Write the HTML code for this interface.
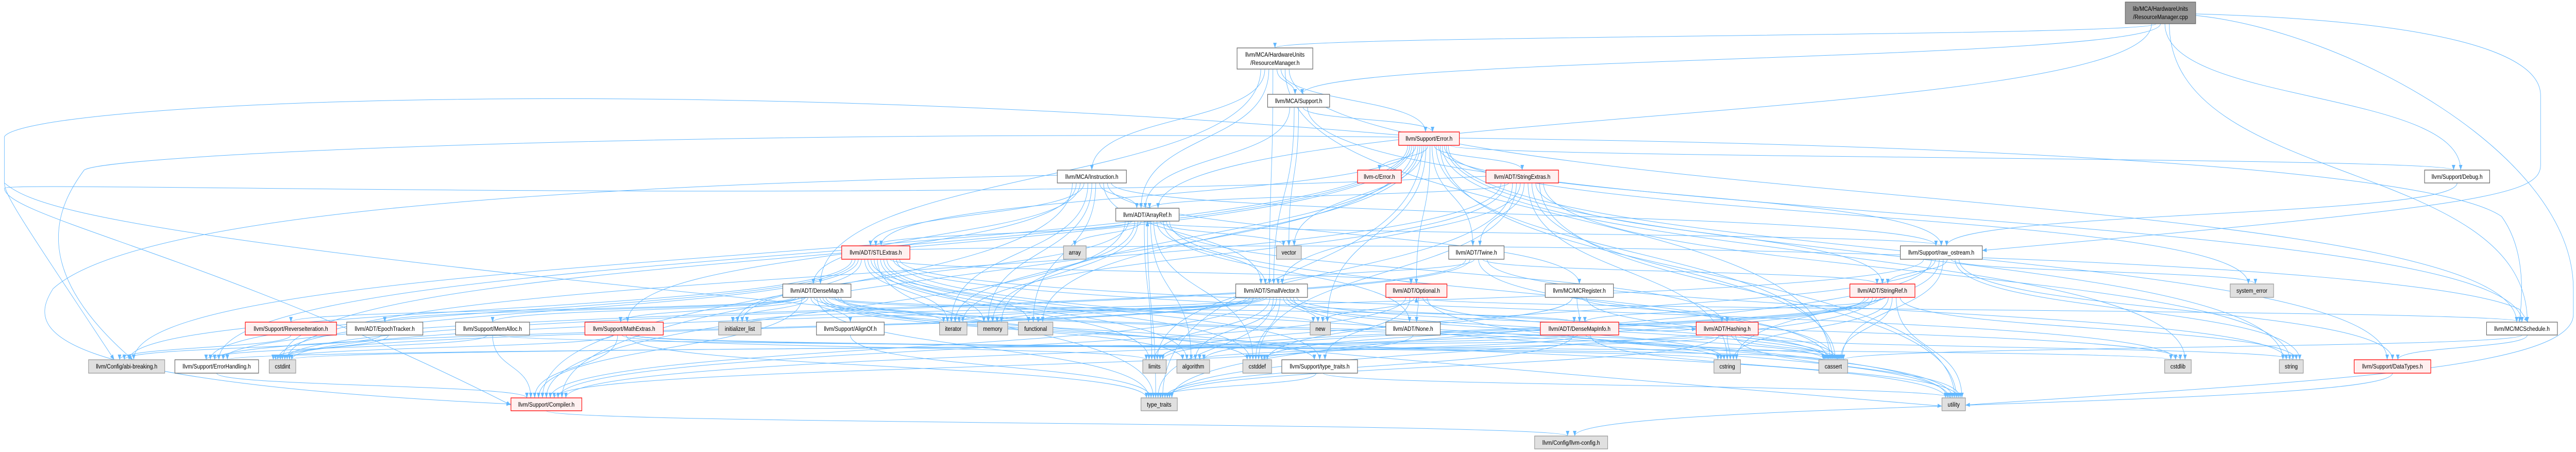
<!DOCTYPE html>
<html><head><meta charset="utf-8">
<style>
html,body{margin:0;padding:0;background:#fff;width:100%;height:100%;overflow:hidden;}
svg{display:block;position:absolute;left:0;top:0;width:100vw;height:100vh;}
text{font-family:"Liberation Sans",sans-serif;font-size:12px;fill:#000;text-anchor:middle;}
rect.w{fill:#fff;stroke:#666;stroke-width:1.3;}
rect.g{fill:#e0e0e0;stroke:#999;stroke-width:1.3;}
rect.r{fill:#fff0f0;stroke:#f00;stroke-width:1.3;}
rect.root{fill:#999;stroke:#666;stroke-width:1.3;}
path.e{fill:none;stroke:#63b8ff;stroke-width:1;}
</style></head>
<body>
<svg id="s" viewBox="0 0 5818 877" preserveAspectRatio="none" xmlns="http://www.w3.org/2000/svg">
<defs><marker id="ah" markerUnits="userSpaceOnUse" markerWidth="11" markerHeight="8" refX="10" refY="4" orient="auto"><path d="M0,0 L10,4 L0,8 z" fill="#63b8ff"/></marker></defs>
<g id="static">
<path class="e" marker-end="url(#ah)" d="M3159,262 C1500,140 60,200 10,265 L10,355 C10,380 60,440 258,698"/>
<path class="e" marker-end="url(#ah)" d="M3159,266 C1500,250 240,300 190,330 C130,400 60,520 300,698"/>
<path class="e" marker-end="url(#ah)" d="M2388,340 C1200,360 300,420 120,560 C60,640 80,740 1154,784"/>
<path class="e" marker-end="url(#ah)" d="M3356,342 C2000,400 10,350 10,365 C10,420 500,500 1154,786"/>
<path class="e" marker-end="url(#ah)" d="M10,355 C100,420 400,500 4386,788"/>
<path class="e" marker-end="url(#ah)" d="M4959,27 C5500,40 5738,100 5738,185 L5738,320 C5738,380 5600,400 4477,486"/>
<path class="e" marker-end="url(#ah)" d="M4959,30 C5300,60 5812,300 5812,560 L5812,610 C5812,720 5200,740 4439,786"/>
<path class="e" marker-end="url(#ah)" d="M2055,484 C3500,460 5450,500 5690,600 L5710,625"/>
<path class="e" marker-end="url(#ah)" d="M3296,268 C4500,280 5500,330 5650,420 C5700,480 5700,560 5690,625"/>
</g>
<g id="edges"></g>
<g id="nodes">
<rect id="root" class="root" x="4800" y="4" width="159" height="42"/><text x="4879.5" y="21">lib/MCA/HardwareUnits</text><text x="4879.5" y="37">/ResourceManager.cpp</text>
<rect id="rmh" class="w" x="2794" y="93" width="171" height="41"/><text x="2879.5" y="110">llvm/MCA/HardwareUnits</text><text x="2879.5" y="126">/ResourceManager.h</text>
<rect id="mcasup" class="w" x="2863" y="183" width="140" height="25"/><text x="2933" y="200">llvm/MCA/Support.h</text>
<rect id="errh" class="r" x="3159" y="256" width="137" height="26"/><text x="3227.5" y="273">llvm/Support/Error.h</text>
<rect id="instr" class="w" x="2388" y="330" width="156" height="25"/><text x="2466" y="347">llvm/MCA/Instruction.h</text>
<rect id="cerr" class="r" x="3066" y="330" width="99" height="25"/><text x="3115.5" y="347">llvm-c/Error.h</text>
<rect id="strext" class="r" x="3356" y="330" width="164" height="25"/><text x="3438" y="347">llvm/ADT/StringExtras.h</text>
<rect id="debug" class="w" x="5476" y="330" width="147" height="25"/><text x="5549.5" y="347">llvm/Support/Debug.h</text>
<rect id="arrayref" class="w" x="2520" y="404" width="143" height="25"/><text x="2591.5" y="421">llvm/ADT/ArrayRef.h</text>
<rect id="stlext" class="r" x="1901" y="477" width="154" height="26"/><text x="1978" y="494">llvm/ADT/STLExtras.h</text>
<rect id="array" class="g" x="2402" y="477" width="51" height="26"/><text x="2427.5" y="494">array</text>
<rect id="vector" class="g" x="2883" y="477" width="56" height="26"/><text x="2911" y="494">vector</text>
<rect id="twine" class="w" x="3272" y="477" width="125" height="26"/><text x="3334.5" y="494">llvm/ADT/Twine.h</text>
<rect id="rawos" class="w" x="4292" y="477" width="185" height="26"/><text x="4384.5" y="494">llvm/Support/raw_ostream.h</text>
<rect id="densemap" class="w" x="1768" y="551" width="154" height="26"/><text x="1845" y="568">llvm/ADT/DenseMap.h</text>
<rect id="smallvec" class="w" x="2791" y="551" width="162" height="26"/><text x="2872" y="568">llvm/ADT/SmallVector.h</text>
<rect id="optional" class="r" x="3130" y="551" width="138" height="26"/><text x="3199" y="568">llvm/ADT/Optional.h</text>
<rect id="mcreg" class="w" x="3490" y="551" width="154" height="26"/><text x="3567" y="568">llvm/MC/MCRegister.h</text>
<rect id="strref" class="r" x="4178" y="551" width="147" height="26"/><text x="4251.5" y="568">llvm/ADT/StringRef.h</text>
<rect id="syserr" class="g" x="5037" y="551" width="98" height="26"/><text x="5086" y="568">system_error</text>
<rect id="reviter" class="r" x="554" y="625" width="206" height="25"/><text x="657" y="642">llvm/Support/ReverseIteration.h</text>
<rect id="epoch" class="w" x="783" y="625" width="172" height="25"/><text x="869" y="642">llvm/ADT/EpochTracker.h</text>
<rect id="memalloc" class="w" x="1029" y="625" width="167" height="25"/><text x="1112.5" y="642">llvm/Support/MemAlloc.h</text>
<rect id="mathext" class="r" x="1321" y="625" width="177" height="25"/><text x="1409.5" y="642">llvm/Support/MathExtras.h</text>
<rect id="initl" class="g" x="1623" y="625" width="96" height="25"/><text x="1671" y="642">initializer_list</text>
<rect id="alignof" class="w" x="1844" y="625" width="153" height="25"/><text x="1920.5" y="642">llvm/Support/AlignOf.h</text>
<rect id="iterator" class="g" x="2122" y="625" width="62" height="25"/><text x="2153" y="642">iterator</text>
<rect id="memory" class="g" x="2208" y="625" width="68" height="25"/><text x="2242" y="642">memory</text>
<rect id="functional" class="g" x="2300" y="625" width="78" height="25"/><text x="2339" y="642">functional</text>
<rect id="new" class="g" x="2959" y="625" width="46" height="25"/><text x="2982" y="642">new</text>
<rect id="none" class="w" x="3130" y="625" width="123" height="25"/><text x="3191.5" y="642">llvm/ADT/None.h</text>
<rect id="dmi" class="r" x="3479" y="625" width="177" height="25"/><text x="3567.5" y="642">llvm/ADT/DenseMapInfo.h</text>
<rect id="hashing" class="r" x="3831" y="625" width="140" height="25"/><text x="3901" y="642">llvm/ADT/Hashing.h</text>
<rect id="mcsched" class="w" x="5616" y="625" width="160" height="25"/><text x="5696" y="642">llvm/MC/MCSchedule.h</text>
<rect id="abi" class="g" x="200" y="698" width="172" height="26"/><text x="286" y="715">llvm/Config/abi-breaking.h</text>
<rect id="errhand" class="w" x="395" y="698" width="189" height="26"/><text x="489.5" y="715">llvm/Support/ErrorHandling.h</text>
<rect id="cstdint" class="g" x="608" y="698" width="60" height="26"/><text x="638" y="715">cstdint</text>
<rect id="limits" class="g" x="2581" y="698" width="53" height="26"/><text x="2607.5" y="715">limits</text>
<rect id="algorithm" class="g" x="2658" y="698" width="74" height="26"/><text x="2695" y="715">algorithm</text>
<rect id="cstddef" class="g" x="2807" y="698" width="65" height="26"/><text x="2839.5" y="715">cstddef</text>
<rect id="stt" class="w" x="2895" y="698" width="171" height="26"/><text x="2980.5" y="715">llvm/Support/type_traits.h</text>
<rect id="cstring" class="g" x="3871" y="698" width="60" height="26"/><text x="3901" y="715">cstring</text>
<rect id="cassert" class="g" x="4108" y="698" width="65" height="26"/><text x="4140.5" y="715">cassert</text>
<rect id="cstdlib" class="g" x="4889" y="698" width="60" height="26"/><text x="4919" y="715">cstdlib</text>
<rect id="string" class="g" x="5148" y="698" width="54" height="26"/><text x="5175" y="715">string</text>
<rect id="datatypes" class="r" x="5317" y="698" width="173" height="26"/><text x="5403.5" y="715">llvm/Support/DataTypes.h</text>
<rect id="compiler" class="r" x="1154" y="772" width="160" height="25"/><text x="1234" y="789">llvm/Support/Compiler.h</text>
<rect id="tt" class="g" x="2577" y="772" width="82" height="25"/><text x="2618" y="789">type_traits</text>
<rect id="utility" class="g" x="4386" y="772" width="53" height="25"/><text x="4412.5" y="789">utility</text>
<rect id="llvmcfg" class="g" x="3466" y="846" width="165" height="25"/><text x="3548.5" y="863">llvm/Config/llvm-config.h</text>
</g>
</svg>
<script>
(function(){
var E={
root:"rmh,mcasup,debug,mcsched,arrayref",
rmh:"instr,mcasup,arrayref,smallvec,densemap,mcsched,errh,cassert",
mcasup:"arrayref,smallvec,mcsched,errh,vector",
instr:"arrayref,smallvec,stlext,mcreg,mathext,rawos,memory,functional,iterator,compiler,densemap",
errh:"cerr,strext,twine,optional,compiler,rawos,errhand,abi,datatypes,stlext,cassert,cstdint,cstdlib,functional,memory,new,string,syserr,tt,utility,vector,debug",
strext:"twine,arrayref,strref,iterator,cstring,string,cassert,cstdint,cstddef,utility,limits,smallvec",
twine:"smallvec,strref,errhand,cassert,cstdint,string",
arrayref:"hashing,none,smallvec,stlext,compiler,algorithm,array,cassert,cstddef,initl,iterator,memory,tt,vector,limits",
stlext:"optional,abi,errhand,algorithm,cassert,cstddef,cstdint,cstdlib,functional,initl,iterator,limits,memory,tt,utility,stt",
densemap:"dmi,epoch,alignof,compiler,mathext,memalloc,reviter,stt,algorithm,cassert,cstddef,cstring,initl,iterator,new,tt,utility",
smallvec:"compiler,errhand,algorithm,cassert,cstddef,cstdint,cstdlib,cstring,functional,initl,iterator,limits,memory,new,tt,utility",
optional:"none,compiler,stt,cassert,new,utility",
mcreg:"dmi,hashing,cassert,limits",
strref:"dmi,compiler,algorithm,cassert,cstddef,cstring,limits,string,tt,utility",
rawos:"arrayref,strref,datatypes,cassert,cstddef,cstdint,cstring,string,syserr,tt",
reviter:"abi",
epoch:"abi,cstdint",
memalloc:"compiler,errhand,cstdlib",
mathext:"compiler,cassert,cstdint,cstring,limits,tt",
alignof:"tt",
none:"compiler",
dmi:"cassert,cstddef,cstdint,tt,utility,hashing",
hashing:"errhand,tt,algorithm,cassert,cstring,string,utility",
mcsched:"datatypes,cassert,optional",
stt:"tt,utility",
compiler:"llvmcfg",
errhand:"compiler",
datatypes:"llvmcfg",
debug:"rawos"
};
function box(id){var r=document.getElementById(id);var x=+r.getAttribute('x'),y=+r.getAttribute('y'),w=+r.getAttribute('width'),h=+r.getAttribute('height');return {x1:x,y1:y,x2:x+w,y2:y+h,cx:x+w/2,cy:y+h/2,w:w};}
var out={},inc={},list=[];
for(var s in E){E[s].split(',').forEach(function(t){list.push([s,t]);(out[s]=out[s]||[]).push(t);(inc[t]=inc[t]||[]).push(s);});}
var B={};function b(id){return B[id]||(B[id]=box(id));}
function spread(arr,key,self){arr=arr.slice().sort(function(a,c){return b(a).cx-b(c).cx;});var i=arr.indexOf(key),n=arr.length;var bb=b(self);var span=Math.min(bb.w*0.7,n*8);return n<2?bb.cx:bb.cx-span/2+span*i/(n-1);}
var g=document.getElementById('edges'),html='';
list.forEach(function(p){var s=b(p[0]),t=b(p[1]);var d;
 if(Math.abs(t.cy-s.cy)<10){
  if(t.cx<s.cx){d='M'+s.x1+','+s.cy+' C'+(s.x1-40)+','+(s.cy+6)+' '+(t.x2+40)+','+(t.cy+6)+' '+t.x2+','+t.cy;}
  else{d='M'+s.x2+','+s.cy+' C'+(s.x2+40)+','+(s.cy+6)+' '+(t.x1-40)+','+(t.cy+6)+' '+t.x1+','+t.cy;}
 }else if(t.cy>s.cy){
  var sx=spread(out[p[0]],p[1],p[0]),tx=spread(inc[p[1]],p[0],p[1]);
  var sy=s.y2,ty=t.y1,dy=(ty-sy)*0.55;
  d='M'+sx+','+sy+' C'+sx+','+(sy+dy)+' '+tx+','+(ty-dy)+' '+tx+','+ty;
 }else{
  var sx=s.cx,tx=t.cx,sy=s.y1,ty=t.y2,dy=(sy-ty)*0.55;
  d='M'+sx+','+sy+' C'+sx+','+(sy-dy)+' '+tx+','+(ty+dy)+' '+tx+','+ty;
 }
 html+='<path class="e" d="'+d+'" marker-end="url(#ah)"/>';
});
g.innerHTML=html;
})();
</script>
</body></html>
